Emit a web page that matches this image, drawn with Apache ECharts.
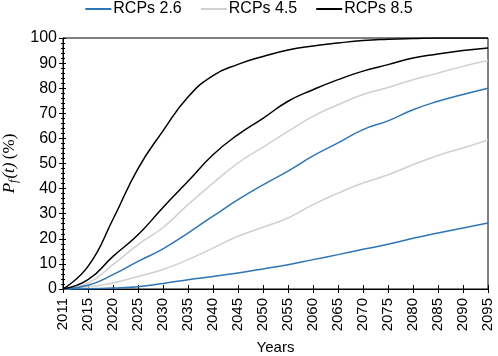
<!DOCTYPE html>
<html>
<head>
<meta charset="utf-8">
<script src="https://cdn.jsdelivr.net/npm/echarts@6/dist/echarts.min.js"></script>
<style>
  html, body { margin: 0; padding: 0; background: #fff; }
  #chart { width: 498px; height: 356px; }
</style>
</head>
<body>
<div id="chart"></div>
<script>
var years = ['2011', '2015', '2020', '2025', '2030', '2035', '2040', '2045', '2050',
  '2055', '2060', '2065', '2070', '2075', '2080', '2085', '2090', '2095'];

// RCPs 2.6
var rcp26High = [0, 1.5, 5.7, 11, 16, 22.3, 29, 35.6, 41.5, 47, 53, 58.2, 63.5, 67, 71.4, 74.8, 77.5, 80];
var rcp26Low = [0, 0.1, 0.4, 0.9, 2.2, 3.7, 5, 6.4, 8, 9.7, 11.7, 13.7, 15.8, 17.8, 20.2, 22.3, 24.3, 26.3];
// RCPs 4.5
var rcp45High = [0, 2.4, 9.7, 17.7, 24.5, 33.6, 42.2, 50.2, 56.5, 62.8, 68.8, 73.4, 77.5, 80.3, 83.4, 86, 88.7, 91];
var rcp45Low = [0, 0.8, 2.4, 5, 7.8, 11.7, 16.3, 21, 24.6, 28.3, 33.6, 38.2, 42.2, 45.5, 49.5, 53.2, 56.2, 59.3];
// RCPs 8.5
var rcp85High = [0, 9, 27.8, 48, 63, 76.5, 85, 89.5, 92.6, 95.2, 96.8, 98, 99, 99.5, 99.8, 100, 100, 100];
var rcp85Low = [0, 3.7, 13, 21.6, 32.5, 42.9, 53.5, 61.5, 68, 74.8, 79.4, 83.4, 86.8, 89.4, 92, 93.6, 95, 96];

var blue = '#2e75b6';
var grey = '#d0d0d0';
var black = '#000000';
var font = 'Liberation Sans';

function line(name, data, color) {
  return {
    name: name,
    type: 'line',
    data: data,
    smooth: 0.5,
    symbol: 'none',
    lineStyle: { color: color, width: 1.5 },
    itemStyle: { color: color }
  };
}

var chart = echarts.init(document.getElementById('chart'));

var option = {
  animation: false,
  textStyle: { fontFamily: font },
  legend: {
    top: 0,
    left: 'center',
    padding: [1, 5],
    icon: 'rect',
    itemWidth: 26,
    itemHeight: 2,
    itemGap: 19,
    textStyle: { fontSize: 16, color: '#000', fontFamily: font, padding: [0, 0, 0, -3] },
    data: ['RCPs 2.6', 'RCPs 4.5', 'RCPs 8.5']
  },
  grid: {
    left: 63,
    right: 10,
    top: 38,
    bottom: 67,
    outerBoundsMode: 'none',
    show: true,
    borderColor: '#000',
    borderWidth: 1
  },
  xAxis: [{
    type: 'category',
    data: years,
    boundaryGap: false,
    name: 'Years',
    nameLocation: 'middle',
    nameGap: 51,
    nameTextStyle: { fontSize: 15, color: '#000', fontFamily: font },
    axisLine: { lineStyle: { color: '#000', width: 1 } },
    axisTick: { alignWithLabel: true, length: 4, interval: 0, lineStyle: { color: '#000' } },
    axisLabel: { rotate: 90, interval: 0, fontSize: 15, color: '#000', margin: 9, fontFamily: font },
    splitLine: { show: false }
  }, {
    type: 'category',
    data: years,
    boundaryGap: false,
    position: 'bottom',
    axisLine: { show: false },
    axisTick: { inside: true, length: 4, interval: 0, lineStyle: { color: '#000' } },
    axisLabel: { show: false },
    splitLine: { show: false }
  }],
  yAxis: [{
    type: 'value',
    min: 0,
    max: 100,
    interval: 10,
    name: '{i|P}{s|f}{i|(t)} {n|(%)}',
    nameLocation: 'middle',
    nameRotate: 90,
    nameGap: 38,
    nameTextStyle: {
      rich: {
        i: { fontFamily: 'Liberation Serif', fontStyle: 'italic', fontSize: 17, color: '#000' },
        s: { fontFamily: 'Liberation Serif', fontStyle: 'italic', fontSize: 12, color: '#000', verticalAlign: 'bottom', padding: [7, 1, 0, 0] },
        n: { fontFamily: 'Liberation Serif', fontSize: 17, color: '#000' }
      }
    },
    axisLine: { show: true, lineStyle: { color: '#000', width: 1 } },
    axisTick: { show: true, length: 4, lineStyle: { color: '#000' } },
    minorTick: { show: true, splitNumber: 5, length: 2, lineStyle: { color: '#000' } },
    axisLabel: { fontSize: 16, color: '#000', margin: 6, fontFamily: font },
    splitLine: { show: false }
  }, {
    type: 'value',
    min: 0,
    max: 100,
    interval: 10,
    position: 'left',
    axisLine: { show: false },
    axisTick: { show: true, inside: true, length: 3, lineStyle: { color: '#000' } },
    minorTick: { show: true, splitNumber: 5, length: 2, lineStyle: { color: '#000' } },
    axisLabel: { show: false },
    splitLine: { show: false }
  }],
  series: [
    line('RCPs 4.5', rcp45High, grey),
    line('RCPs 4.5', rcp45Low, grey),
    line('RCPs 2.6', rcp26High, blue),
    line('RCPs 2.6', rcp26Low, blue),
    line('RCPs 8.5', rcp85High, black),
    line('RCPs 8.5', rcp85Low, black)
  ]
};

chart.setOption(option);
</script>
</body>
</html>
